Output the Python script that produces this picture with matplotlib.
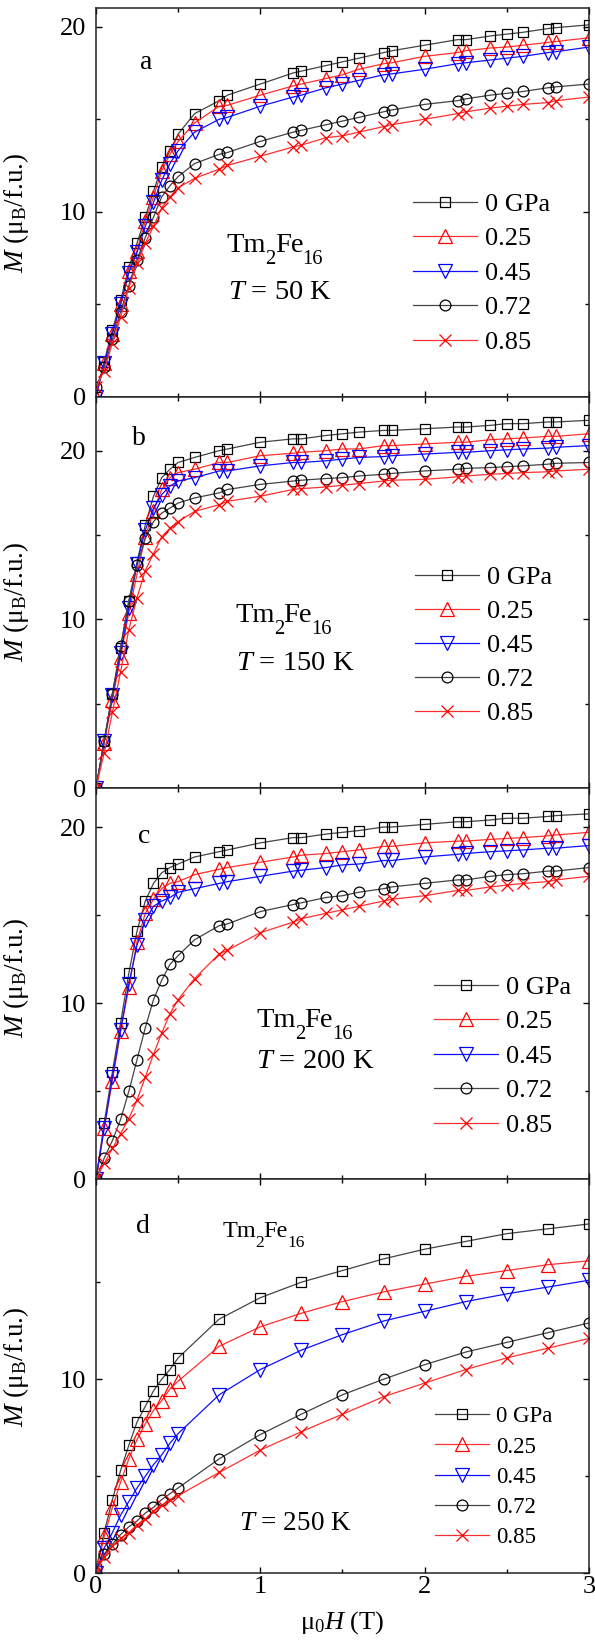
import matplotlib
matplotlib.use("Agg")
import numpy as np
import matplotlib.pyplot as plt
from matplotlib.ticker import MultipleLocator, FixedLocator
from matplotlib.transforms import offset_copy

plt.rcParams['font.family'] = ['Liberation Serif', 'DejaVu Serif']
plt.rcParams['mathtext.fontset'] = 'custom'
plt.rcParams['mathtext.rm'] = 'Liberation Serif'
plt.rcParams['mathtext.it'] = 'Liberation Serif:italic'

# field values (T)
H_abc = [0, 0.05, 0.1, 0.15, 0.2, 0.25, 0.3, 0.35, 0.4, 0.45, 0.5, 0.6, 0.75, 0.8,
         1.0, 1.2, 1.25, 1.4, 1.5, 1.6, 1.75, 1.8, 2.0, 2.2, 2.25, 2.4, 2.5, 2.6,
         2.75, 2.8, 3.0]
H_d = [0, 0.05, 0.1, 0.15, 0.2, 0.25, 0.3, 0.35, 0.4, 0.45, 0.5, 0.75, 1.0, 1.25,
       1.5, 1.75, 2.0, 2.25, 2.5, 2.75, 3.0]

labels = ['0 GPa', '0.25', '0.45', '0.72', '0.85']

# T = 50 K
a_0 = [0, 1.9, 3.6, 5.2, 7.0, 8.3, 9.7, 11.1, 12.4, 13.3, 14.2, 15.3, 16.0, 16.3, 16.9, 17.5, 17.6, 17.9, 18.1, 18.3, 18.6, 18.7, 19.0, 19.3, 19.3, 19.5, 19.6, 19.7, 19.9, 19.95, 20.1]
a_25 = [0, 1.8, 3.4, 5.0, 6.8, 7.9, 9.5, 10.8, 12.2, 13.1, 13.8, 14.8, 15.7, 15.75, 16.3, 16.8, 16.9, 17.2, 17.4, 17.7, 18.0, 18.05, 18.4, 18.6, 18.7, 18.85, 18.9, 19.0, 19.15, 19.2, 19.4]
a_45 = [0, 1.8, 3.4, 5.0, 6.7, 7.8, 9.2, 10.5, 11.7, 12.6, 13.3, 14.3, 15.0, 15.1, 15.7, 16.2, 16.3, 16.7, 16.9, 17.1, 17.4, 17.45, 17.7, 18.0, 18.05, 18.2, 18.3, 18.4, 18.6, 18.65, 18.9]
a_72 = [0.5, 1.6, 3.1, 4.6, 6.0, 7.4, 8.6, 9.7, 10.8, 11.4, 11.9, 12.6, 13.1, 13.2, 13.8, 14.3, 14.4, 14.7, 14.9, 15.1, 15.4, 15.5, 15.8, 16.0, 16.1, 16.3, 16.4, 16.5, 16.7, 16.75, 16.9]
a_85 = [0.5, 1.4, 2.9, 4.3, 5.9, 7.2, 8.3, 9.2, 10.2, 10.8, 11.3, 11.8, 12.3, 12.5, 13.0, 13.5, 13.6, 14.0, 14.1, 14.3, 14.6, 14.7, 15.0, 15.3, 15.4, 15.6, 15.7, 15.8, 15.9, 16.0, 16.2]

# T = 150 K
b_0 = [0, 2.8, 5.6, 8.3, 11.1, 13.4, 15.6, 17.3, 18.4, 18.9, 19.3, 19.6, 20.0, 20.1, 20.5, 20.7, 20.7, 20.9, 21.0, 21.1, 21.2, 21.2, 21.3, 21.4, 21.4, 21.5, 21.6, 21.6, 21.7, 21.7, 21.8]
b_25 = [0, 2.7, 5.2, 7.8, 10.4, 12.7, 14.9, 16.4, 17.7, 18.4, 18.7, 18.9, 19.3, 19.3, 19.7, 19.85, 19.9, 20.0, 20.1, 20.1, 20.3, 20.3, 20.4, 20.5, 20.5, 20.65, 20.7, 20.75, 20.85, 20.85, 21.0]
b_45 = [0, 2.8, 5.5, 8.0, 10.7, 13.3, 15.3, 16.6, 17.4, 17.9, 18.2, 18.4, 18.8, 18.8, 19.1, 19.3, 19.3, 19.4, 19.5, 19.6, 19.65, 19.7, 19.8, 19.9, 19.9, 20.0, 20.05, 20.1, 20.15, 20.2, 20.3]
b_72 = [0, 2.8, 5.6, 8.4, 11.1, 13.2, 14.8, 15.8, 16.3, 16.6, 16.9, 17.2, 17.5, 17.7, 18.0, 18.2, 18.25, 18.35, 18.4, 18.5, 18.6, 18.65, 18.8, 18.9, 18.95, 19.0, 19.05, 19.1, 19.2, 19.25, 19.3]
b_85 = [0, 2.1, 4.5, 6.9, 9.4, 11.3, 12.9, 13.9, 14.9, 15.4, 15.8, 16.4, 16.8, 17.0, 17.3, 17.7, 17.75, 17.85, 17.95, 18.05, 18.2, 18.25, 18.3, 18.45, 18.5, 18.6, 18.65, 18.7, 18.75, 18.8, 18.9]

# T = 200 K
c_0 = [0, 3.2, 6.1, 8.9, 11.7, 14.1, 15.8, 16.8, 17.4, 17.7, 17.9, 18.3, 18.6, 18.7, 19.1, 19.4, 19.4, 19.6, 19.7, 19.8, 20.0, 20.0, 20.15, 20.3, 20.3, 20.4, 20.5, 20.5, 20.6, 20.65, 20.75]
c_25 = [0, 2.9, 5.6, 8.4, 10.9, 13.5, 15.1, 15.9, 16.5, 16.8, 16.9, 17.3, 17.6, 17.7, 18.0, 18.3, 18.4, 18.5, 18.6, 18.7, 18.9, 18.9, 19.1, 19.2, 19.2, 19.3, 19.35, 19.4, 19.5, 19.55, 19.7]
c_45 = [0, 2.9, 5.8, 8.5, 11.1, 13.3, 14.7, 15.5, 15.8, 16.0, 16.3, 16.5, 16.8, 16.9, 17.2, 17.5, 17.55, 17.7, 17.85, 17.9, 18.1, 18.1, 18.3, 18.45, 18.5, 18.6, 18.65, 18.7, 18.8, 18.8, 18.95]
c_72 = [0, 1.2, 2.2, 3.4, 5.0, 6.8, 8.6, 10.2, 11.3, 12.2, 12.7, 13.6, 14.4, 14.5, 15.2, 15.6, 15.7, 16.0, 16.1, 16.3, 16.5, 16.6, 16.8, 17.0, 17.0, 17.2, 17.3, 17.35, 17.5, 17.5, 17.7]
c_85 = [0, 0.9, 1.75, 2.6, 3.45, 4.5, 5.8, 7.1, 8.3, 9.4, 10.2, 11.4, 12.8, 13.0, 14.0, 14.6, 14.8, 15.1, 15.3, 15.5, 15.8, 15.9, 16.1, 16.4, 16.4, 16.6, 16.7, 16.8, 16.9, 17.0, 17.2]

# T = 250 K
d_0 = [0.2, 2.1, 3.8, 5.3, 6.6, 7.8, 8.6, 9.4, 10.0, 10.5, 11.1, 13.1, 14.2, 15.0, 15.6, 16.2, 16.7, 17.1, 17.5, 17.75, 18.0]
d_25 = [0, 1.9, 3.4, 4.7, 5.9, 6.9, 7.7, 8.4, 8.9, 9.5, 9.9, 11.7, 12.7, 13.4, 14.0, 14.5, 14.9, 15.3, 15.6, 15.9, 16.1]
d_45 = [0, 1.3, 2.1, 3.0, 3.7, 4.4, 5.0, 5.6, 6.1, 6.7, 7.2, 9.2, 10.5, 11.5, 12.3, 13.0, 13.5, 14.0, 14.4, 14.75, 15.1]
d_72 = [0, 1.0, 1.5, 2.0, 2.4, 2.7, 3.1, 3.4, 3.8, 4.1, 4.4, 5.9, 7.15, 8.2, 9.2, 10.0, 10.75, 11.4, 11.9, 12.4, 12.9]
d_85 = [0, 0.85, 1.4, 1.8, 2.1, 2.5, 2.8, 3.2, 3.5, 3.8, 4.0, 5.2, 6.35, 7.3, 8.2, 9.1, 9.8, 10.5, 11.1, 11.6, 12.1]

# line colour, marker colour, marker, size
styles = [('#444444', 'black', 's', 7), ('#ff3030', '#ff0000', '^', 10),
          ('#1010ff', '#0000ff', 'v', 10), ('#444444', 'black', 'o', 7.8),
          ('#ff3030', '#ff0000', 'x', 9)]


def chem(ax, x, y, size):
    # Tm2Fe16 with big, low subscripts
    fig = ax.figure
    r = fig.canvas.get_renderer()
    dx = 0
    for s, sub in [('Tm', False), ('2', True), ('Fe', False), ('16', True)]:
        fs = size * 0.72 if sub else size
        dy = -size * 0.42 if sub else 0
        tr = offset_copy(ax.transAxes, fig=fig, x=dx, y=dy, units='points')
        t = ax.text(x, y, s, transform=tr, fontsize=fs)
        dx += t.get_window_extent(renderer=r).width * 72 / fig.dpi - 0.6


def plot_panel(ax, H, series, ymax, letter, letter_pos, comp_pos, temp, temp_pos,
               leg_pos, leg_fs, leg_space, hlen, ylab_y, comp_fs=20.5, temp_fs=20.5):
    for (lc, mc, m, ms), y, lab in zip(styles, series, labels):
        ax.plot(H, y, color=lc, lw=0.9, marker=m, ms=ms, mfc='none', mec=mc,
                mew=0.9, label=lab)
    ax.set_xlim(0, 3)
    ax.set_ylim(0, ymax)
    ax.xaxis.set_major_locator(MultipleLocator(1))
    ax.xaxis.set_minor_locator(MultipleLocator(0.5))
    if ymax > 20.5:
        ax.yaxis.set_major_locator(FixedLocator([0, 10, 20]))
    else:
        ax.yaxis.set_major_locator(FixedLocator([0, 10]))
    ax.yaxis.set_minor_locator(FixedLocator([5, 15]))
    ax.tick_params(which='both', direction='in', top=True, right=True, width=1.0)
    ax.tick_params(which='major', length=4.5, labelsize=19)
    ax.tick_params(which='minor', length=3)
    ax.tick_params(axis='y', pad=7)
    ax.tick_params(axis='x', pad=2)
    for s in ax.spines.values():
        s.set_linewidth(1.1)
        s.set_color('#222222')
    ax.set_ylabel(r'$\mathit{M}$ (μ$_{\rm B}$/f.u.)', fontsize=19.5)
    ax.yaxis.set_label_coords(-0.132, ylab_y)
    ax.text(letter_pos[0], letter_pos[1], letter, transform=ax.transAxes, fontsize=20)
    chem(ax, comp_pos[0], comp_pos[1], comp_fs)
    ax.text(temp_pos[0], temp_pos[1], r'$\mathit{T}$ = ' + temp, transform=ax.transAxes,
            fontsize=temp_fs)
    ax.legend(loc='center left', bbox_to_anchor=leg_pos, frameon=False, fontsize=leg_fs,
              borderpad=0, borderaxespad=0, handlelength=hlen, handletextpad=0.3,
              labelspacing=leg_space)


fig = plt.figure(figsize=(5.95, 16.43), dpi=100)
gs = fig.add_gridspec(4, 1, left=0.1613, right=0.9899, top=0.995, bottom=0.0424,
                      hspace=0, height_ratios=[388.4, 391.6, 391, 394])
axs = [fig.add_subplot(gs[i]) for i in range(4)]
fig.canvas.draw()

plot_panel(axs[0], H_abc, [a_0, a_25, a_45, a_72, a_85], 21.0, 'a', (0.089, 0.843),
           (0.265, 0.373), '50 K', (0.268, 0.251), (0.643, 0.318), 19, 0.42, 2.42, 0.473)
plot_panel(axs[1], H_abc, [b_0, b_25, b_45, b_72, b_85], 23.2, 'b', (0.073, 0.877),
           (0.282, 0.425), '150 K', (0.285, 0.302), (0.647, 0.365), 19, 0.4, 2.42, 0.476)
plot_panel(axs[2], H_abc, [c_0, c_25, c_45, c_72, c_85], 22.2, 'c', (0.086, 0.861),
           (0.325, 0.39), '200 K', (0.325, 0.285), (0.686, 0.315), 19, 0.42, 2.42, 0.515)
plot_panel(axs[3], H_d, [d_0, d_25, d_45, d_72, d_85], 20.3, 'd', (0.082, 0.864),
           (0.257, 0.854), '250 K', (0.29, 0.11), (0.688, 0.244), 16.5, 0.4, 2.36, 0.524,
           comp_fs=17.5, temp_fs=19.5)

for ax in axs[:3]:
    ax.tick_params(labelbottom=False)
axs[3].set_xlabel(r'μ$_0$$\mathit{H}$ (T)', fontsize=19, labelpad=8)

plt.savefig('out.png', dpi=100)
